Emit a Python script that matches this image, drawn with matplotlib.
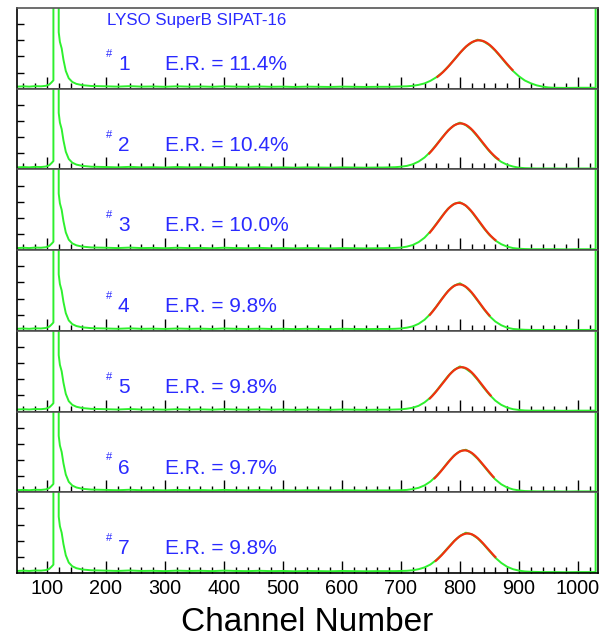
import numpy as np
import matplotlib.pyplot as plt
from matplotlib.ticker import MultipleLocator

plt.rcParams['font.family'] = ['Liberation Sans', 'DejaVu Sans']

# energy resolution per sample, as printed
er = [11.4, 10.4, 10.0, 9.8, 9.8, 9.7, 9.8]

# low energy part (pedestal spike, tail, flat background) - same look in every panel
low_ch = [50, 60, 70, 80, 90, 98, 104, 108, 111, 111, 120, 120, 122, 125, 128, 132,
          137, 143, 150, 160, 175, 200, 220, 240, 260, 280, 300, 320, 340, 360, 380,
          400, 420, 440, 460, 480, 500, 520, 540, 560, 580, 600, 620, 640, 660, 670]
low_val = [0.13, 0.15, 0.13, 0.16, 0.15, 0.18, 0.26, 0.40, 0.52, 7.0, 7.0, 3.5, 2.9,
           2.5, 1.8, 1.1, 0.65, 0.42, 0.30, 0.22, 0.17, 0.15, 0.13, 0.16, 0.13, 0.14,
           0.12, 0.15, 0.13, 0.14, 0.12, 0.15, 0.13, 0.12, 0.14, 0.12, 0.13, 0.11,
           0.13, 0.12, 0.11, 0.13, 0.12, 0.11, 0.12, 0.12]

# photopeak region, read every 10 channels
peak_ch = list(range(680, 960, 10))
peak_1 = [0.12, 0.13, 0.14, 0.15, 0.18, 0.24, 0.33, 0.49, 0.71, 1.00, 1.37, 1.79, 2.22,
          2.60, 2.86, 3.04, 2.93, 2.70, 2.35, 1.93, 1.49, 1.10, 0.77, 0.51, 0.34, 0.21,
          0.13, 0.08]
peak_2 = [0.13, 0.14, 0.17, 0.22, 0.32, 0.49, 0.74, 1.09, 1.53, 1.99, 2.42, 2.73, 2.90,
          2.74, 2.45, 2.03, 1.56, 1.12, 0.74, 0.47, 0.29, 0.18, 0.11, 0.08, 0.07, 0.06,
          0.06, 0.06]
peak_3 = [0.13, 0.14, 0.16, 0.22, 0.32, 0.50, 0.77, 1.16, 1.63, 2.13, 2.58, 2.87, 2.97,
          2.76, 2.37, 1.88, 1.38, 0.94, 0.60, 0.37, 0.22, 0.13, 0.09, 0.07, 0.06, 0.06,
          0.06, 0.06]
peak_4 = [0.12, 0.13, 0.15, 0.20, 0.28, 0.44, 0.69, 1.05, 1.51, 2.02, 2.48, 2.80, 2.95,
          2.72, 2.35, 1.87, 1.37, 0.92, 0.58, 0.35, 0.20, 0.12, 0.09, 0.07, 0.06, 0.06,
          0.06, 0.06]
peak_5 = [0.12, 0.13, 0.14, 0.18, 0.24, 0.36, 0.57, 0.87, 1.28, 1.75, 2.21, 2.58, 2.80,
          2.66, 2.39, 1.97, 1.49, 1.05, 0.68, 0.42, 0.25, 0.15, 0.10, 0.07, 0.06, 0.06,
          0.06, 0.06]
peak_6 = [0.12, 0.12, 0.13, 0.15, 0.20, 0.28, 0.43, 0.67, 1.01, 1.42, 1.88, 2.28, 2.55,
          2.64, 2.42, 2.08, 1.65, 1.20, 0.80, 0.50, 0.30, 0.18, 0.12, 0.08, 0.07, 0.06,
          0.06, 0.06]
peak_7 = [0.12, 0.12, 0.13, 0.14, 0.17, 0.24, 0.35, 0.53, 0.81, 1.17, 1.58, 1.98, 2.30,
          2.50, 2.40, 2.15, 1.78, 1.36, 0.95, 0.63, 0.39, 0.24, 0.15, 0.10, 0.08, 0.07,
          0.06, 0.06]
peaks = [peak_1, peak_2, peak_3, peak_4, peak_5, peak_6, peak_7]

# high end, with the overflow bin at the right edge
high_ch = [960, 980, 1000, 1020, 1030, 1030, 1040]
high_val = [0.06, 0.05, 0.06, 0.06, 0.06, 9.0, 9.0]

# gaussian fit parameters (sigma follows from E.R. = FWHM / mean)
fit_mean = [832, 801, 798, 799, 803, 808, 813]
fit_amp = [2.90, 2.75, 2.83, 2.78, 2.65, 2.50, 2.35]
fit_lo = [762, 748, 749, 749, 749, 757, 759]
fit_hi = [889, 865, 860, 850, 852, 857, 860]
fit_base = 0.1

green = '#2ef02e'
blue = '#2a2aff'

fig = plt.figure(figsize=(6.01, 6.41), dpi=100)
axes = fig.subplots(7, 1, sharex=True, gridspec_kw=dict(hspace=0))
fig.subplots_adjust(left=0.028, right=0.995, top=0.9875, bottom=0.106)

for i, ax in enumerate(axes):
    ch = low_ch + peak_ch + high_ch
    val = low_val + peaks[i] + high_val
    ax.plot(ch, val, color=green, lw=1.4)

    sigma = er[i] / 100 * fit_mean[i] / 2.355
    xf = np.linspace(fit_lo[i], fit_hi[i], 200)
    yf = fit_base + fit_amp[i] * np.exp(-0.5 * ((xf - fit_mean[i]) / sigma) ** 2)
    ax.plot(xf, yf, color='#f03010', lw=1.6)

    ax.set_xlim(49, 1034)
    ax.set_ylim(0, 5)
    ax.set_yticks([1, 2, 3, 4])
    ax.set_yticklabels([])
    ax.xaxis.set_major_locator(MultipleLocator(100))
    ax.xaxis.set_minor_locator(MultipleLocator(20))
    ax.tick_params(axis='x', which='major', direction='in', length=8.5, width=1,
                   top=False, labelsize=14.3, pad=4)
    ax.tick_params(axis='x', which='minor', direction='in', length=4.3, width=1, top=False)
    ax.tick_params(axis='y', direction='in', length=5, width=1, right=False)
    for s in ax.spines.values():
        s.set_linewidth(1.2)
    ax.spines['top'].set_color('#555555')

    ax.text(0.153, 0.37, '#', transform=ax.transAxes, color=blue, fontsize=8,
            ha='left', va='bottom')
    ax.text(0.174, 0.30, str(i + 1), transform=ax.transAxes, color=blue, fontsize=15,
            ha='left', va='center')
    ax.text(0.255, 0.30, 'E.R. = %.1f%%' % er[i], transform=ax.transAxes, color=blue,
            fontsize=15, ha='left', va='center')

axes[0].text(0.155, 0.85, 'LYSO SuperB SIPAT-16', transform=axes[0].transAxes,
             color=blue, fontsize=12.2, ha='left', va='center')

axes[-1].set_xlabel('Channel Number', fontsize=24, labelpad=7)

fig.savefig('out.png', dpi=100)
